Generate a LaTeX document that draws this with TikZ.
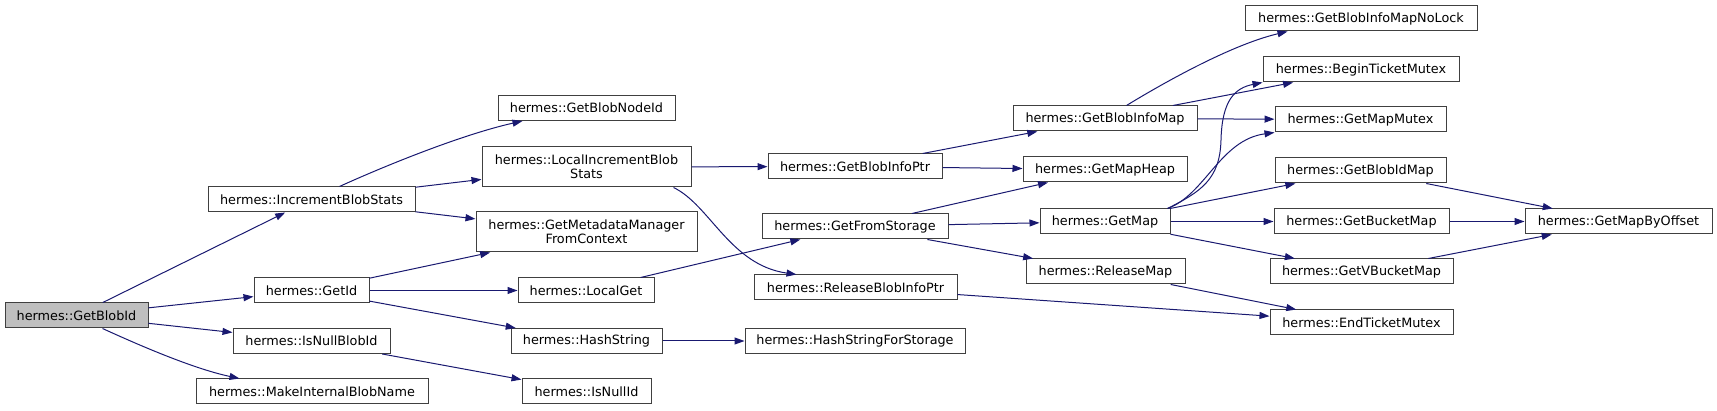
\documentclass[tikz,border=0pt]{standalone}
\usepackage{fontspec}
\setmainfont{DejaVu Sans}
\usetikzlibrary{arrows.meta,calc}
\definecolor{edgec}{HTML}{191970}
\definecolor{nodeb}{HTML}{404040}
\definecolor{rootfill}{HTML}{BFBFBF}
\begin{document}
\begin{tikzpicture}[x=1pt,y=-1pt,
  box/.style={draw=nodeb, line width=1pt, fill=white, inner sep=0pt,
    minimum height=25pt, font=\fontsize{12.8}{14}\selectfont, align=center, text=black},
  twoline/.style={minimum height=40pt},
  edge/.style={draw=edgec, line width=1pt, -{Triangle[length=10pt,width=7pt]}},
]
\useasboundingbox (0,0) rectangle (1717,411);

% column 0
\node[box, fill=rootfill, minimum width=143pt] (blobid) at (76.5,315.5) {hermes::GetBlobId};
% column 1
\node[box, minimum width=207pt] (incstats) at (311.5,199.5) {hermes::IncrementBlobStats};
\node[box, minimum width=115pt] (getid) at (311.5,290.5) {hermes::GetId};
\node[box, minimum width=157pt] (isnullblobid) at (311.5,341) {hermes::IsNullBlobId};
\node[box, minimum width=232pt] (makeint) at (312,391.5) {hermes::MakeInternalBlobName};
% column 2
\node[box, minimum width=177pt] (nodeid) at (586.5,108) {hermes::GetBlobNodeId};
\node[box, twoline, minimum width=209pt] (localinc) at (586.5,167) {hermes::LocalIncrementBlob\\Stats};
\node[box, twoline, minimum width=221pt] (metadata) at (586.5,232) {hermes::GetMetadataManager\\FromContext};
\node[box, minimum width=136pt] (localget) at (586,290.5) {hermes::LocalGet};
\node[box, minimum width=151pt] (hashstring) at (586.5,341) {hermes::HashString};
\node[box, minimum width=129pt] (isnullid) at (586.5,391.5) {hermes::IsNullId};
% column 3
\node[box, minimum width=174pt] (blobinfoptr) at (855,166.5) {hermes::GetBlobInfoPtr};
\node[box, minimum width=186pt] (fromstorage) at (855,226.5) {hermes::GetFromStorage};
\node[box, minimum width=203pt] (releaseptr) at (855.5,287.5) {hermes::ReleaseBlobInfoPtr};
\node[box, minimum width=220pt] (hashstorage) at (855,341) {hermes::HashStringForStorage};
% column 4
\node[box, minimum width=184pt] (blobinfomap) at (1105,118.5) {hermes::GetBlobInfoMap};
\node[box, minimum width=164pt] (mapheap) at (1105,169.5) {hermes::GetMapHeap};
\node[box, minimum width=130pt] (getmap) at (1105,221.5) {hermes::GetMap};
\node[box, minimum width=159pt] (releasemap) at (1105.5,271.5) {hermes::ReleaseMap};
% column 5
\node[box, minimum width=232pt] (nolock) at (1361,18.5) {hermes::GetBlobInfoMapNoLock};
\node[box, minimum width=196pt] (beginticket) at (1361,69.5) {hermes::BeginTicketMutex};
\node[box, minimum width=171pt] (mapmutex) at (1360.5,119.5) {hermes::GetMapMutex};
\node[box, minimum width=171pt] (blobidmap) at (1360.5,170.5) {hermes::GetBlobIdMap};
\node[box, minimum width=175pt] (bucketmap) at (1361.5,221.5) {hermes::GetBucketMap};
\node[box, minimum width=183pt] (vbucketmap) at (1361.5,271.5) {hermes::GetVBucketMap};
\node[box, minimum width=183pt] (endticket) at (1361.5,322.5) {hermes::EndTicketMutex};
% column 6
\node[box, minimum width=187pt] (mapbyoffset) at (1618.5,221.5) {hermes::GetMapByOffset};

% edges
\draw[edge] (blobid) -- (incstats);
\draw[edge] (blobid) -- (getid);
\draw[edge] (blobid) -- (isnullblobid);
\draw[edge] ($(blobid.south west)+(98,0)$) .. controls (130,341) and (190,368) .. ($(makeint.north west)+(44,0)$);

\draw[edge] ($(incstats.north west)+(132,0)$) .. controls (380,168) and (460,135) .. ($(nodeid.south west)+(25,0)$);
\draw[edge] (incstats) -- (localinc);
\draw[edge] (incstats) -- (metadata);
\draw[edge] (getid) -- (metadata);
\draw[edge] (getid) -- (localget);
\draw[edge] (getid) -- (hashstring);
\draw[edge] (isnullblobid) -- (isnullid);

\draw[edge] (localinc) -- (blobinfoptr);
\draw[edge] ($(localinc.south west)+(192,0)$) .. controls (710,205) and (730,265) .. ($(releaseptr.north west)+(43,0)$);
\draw[edge] (localget) -- (fromstorage);
\draw[edge] (hashstring) -- (hashstorage);

\draw[edge] (blobinfoptr) -- (blobinfomap);
\draw[edge] (blobinfoptr) -- (mapheap);
\draw[edge] (fromstorage) -- (mapheap);
\draw[edge] (fromstorage) -- (getmap);
\draw[edge] (fromstorage) -- (releasemap);
\draw[edge] (releaseptr) -- (endticket);

\draw[edge] ($(blobinfomap.north west)+(114,0)$) .. controls (1160,85) and (1230,45) .. ($(nolock.south west)+(43,0)$);
\draw[edge] (blobinfomap) -- (beginticket);
\draw[edge] (blobinfomap) -- (mapmutex);

\draw[edge] ($(getmap.north east)+(-3,0)$) .. controls (1200,192) and (1220,180) .. (1221,140)
   .. controls (1222,100) and (1235,88) .. (beginticket.south west);
\draw[edge] ($(getmap.north east)+(-3,0)$) .. controls (1205,195) and (1220,140) .. (mapmutex.south west);
\draw[edge] (getmap) -- (blobidmap);
\draw[edge] (getmap) -- (bucketmap);
\draw[edge] (getmap) -- (vbucketmap);
\draw[edge] (releasemap) -- (endticket);

\draw[edge] (blobidmap) -- (mapbyoffset);
\draw[edge] (bucketmap) -- (mapbyoffset);
\draw[edge] (vbucketmap) -- (mapbyoffset);
\end{tikzpicture}
\end{document}
